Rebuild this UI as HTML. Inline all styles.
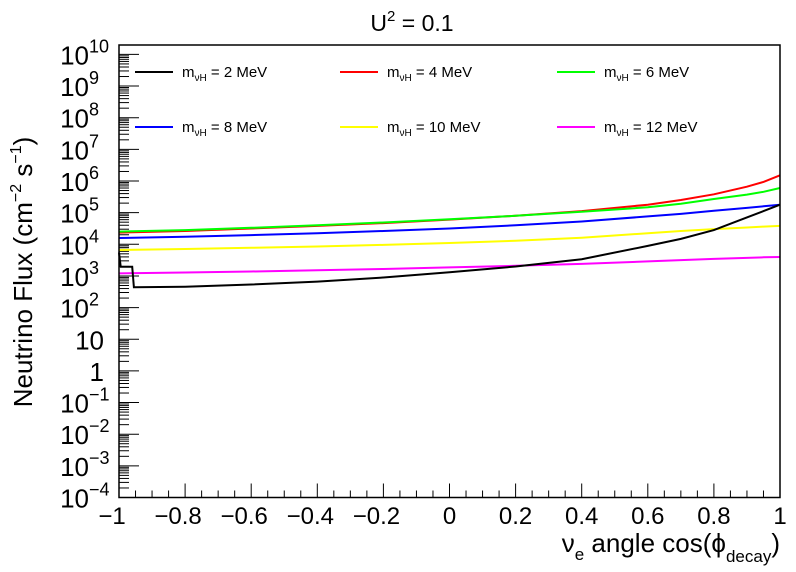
<!DOCTYPE html>
<html><head><meta charset="utf-8"><style>
html,body{margin:0;padding:0;background:#fff;}
svg{display:block;font-family:"Liberation Sans",sans-serif;}
</style></head><body>
<svg id="chart" width="796" height="572" viewBox="0 0 796 572" xmlns="http://www.w3.org/2000/svg">
<rect x="0" y="0" width="796" height="572" fill="#fff"/>
<text x="412" y="31" font-size="23" text-anchor="middle">U<tspan dy="-10" font-size="15">2</tspan><tspan dy="10"> = 0.1</tspan></text>
<text transform="translate(32,272) rotate(-90)" font-size="26" text-anchor="middle">Neutrino Flux (cm<tspan dy="-11" font-size="16">−2</tspan><tspan dy="11"> s</tspan><tspan dy="-11" font-size="16">−1</tspan><tspan dy="11">)</tspan></text>
<text x="780" y="552" font-size="26" text-anchor="end">ν<tspan dy="8" font-size="17">e</tspan><tspan dy="-8"> angle cos(ϕ</tspan><tspan dy="10" font-size="17">decay</tspan><tspan dy="-10">)</tspan></text>
<g id="ticks"></g>
<g id="series"></g>
<rect x="119" y="45" width="661" height="452.5" fill="none" stroke="#000" stroke-width="1.5"/>
<g id="legend"></g>
</svg>
<script>
const xGrid = [-1,-0.8,-0.6,-0.4,-0.2,0,0.2,0.4,0.6,0.7,0.8,0.9,0.95,1];
const red = [4.37,4.42,4.5,4.58,4.67,4.78,4.9,5.05,5.25,5.4,5.58,5.82,5.97,6.18];
const green = [4.40,4.45,4.52,4.6,4.69,4.79,4.9,5.03,5.17,5.28,5.43,5.57,5.66,5.78];
const blue = [4.2,4.24,4.29,4.35,4.42,4.5,4.6,4.72,4.88,4.96,5.06,5.15,5.2,5.25];
const yellow = [3.82,3.85,3.89,3.93,3.98,4.04,4.11,4.21,4.35,4.42,4.48,4.53,4.56,4.58];
const magenta = [3.08,3.11,3.14,3.18,3.22,3.27,3.32,3.38,3.46,3.5,3.54,3.57,3.59,3.6];
const blackX = [-1,-0.995,-0.96,-0.955,-0.8,-0.6,-0.4,-0.2,0,0.2,0.4,0.6,0.7,0.8,0.9,0.95,1];
const black = [3.74,3.29,3.29,2.64,2.66,2.73,2.82,2.95,3.12,3.3,3.53,3.95,4.17,4.45,4.85,5.05,5.25];
const xTickLabels = ["−1","−0.8","−0.6","−0.4","−0.2","0","0.2","0.4","0.6","0.8","1"];
const yDecades = [-4,-3,-2,-1,0,1,2,3,4,5,6,7,8,9,10];
const legendLabels = ["2","4","6","8","10","12"];

const NS="http://www.w3.org/2000/svg";
const X0=119,X1=780,YB=497.5,PD=31.65;
function sx(v){return X0+(v+1)/2*(X1-X0);}
function sy(l){return YB-(l+4)*PD;}
function mk(tag,attrs,parent){const e=document.createElementNS(NS,tag);for(const k in attrs)e.setAttribute(k,attrs[k]);parent.appendChild(e);return e;}
const ticks=document.getElementById('ticks');
for(let i=0;i<=40;i++){const v=-1+i*0.05;const maj=i%4===0;
 const t=mk('line',{x1:sx(v),x2:sx(v),y1:YB,y2:YB-(maj?14:7),stroke:'#000','stroke-width':1},ticks);
 
 }
xTickLabels.forEach((s,i)=>{const t=mk('text',{x:sx(-1+i*0.2)+(s.startsWith('−')?-7:0),y:524,'font-size':24,'text-anchor':'middle'},ticks);t.textContent=s;
 
 });
yDecades.forEach(d=>{const y=sy(d);
 const t=mk('line',{x1:X0,x2:X0+20,y1:y,y2:y,stroke:'#000','stroke-width':1},ticks);
 
 
 const lbl=mk('text',{x:104,y:y+10,'font-size':26,'text-anchor':'end'},ticks);
 
 
 if(d===0){lbl.textContent='1';}
 else if(d===1){lbl.textContent='10';}
 else{lbl.setAttribute('x',89);lbl.textContent='10';const sp=mk('tspan',{dy:-12,'font-size':18,'text-anchor':'start',x:89},lbl);sp.textContent=(d<0?'−':'')+Math.abs(d);}
 if(d<10){for(let k=2;k<=9;k++){const yy=sy(d+Math.log10(k));
  const m=mk('line',{x1:X0,x2:X0+10,y1:yy,y2:yy,stroke:'#000','stroke-width':1},ticks);
  
  }}
});
const ser=document.getElementById('series');
function drawLine(xs,ys,color,name){
 let pts=xs.map((x,i)=>sx(x).toFixed(1)+','+sy(ys[i]).toFixed(1)).join(' ');
 const p=mk('polyline',{points:pts,fill:'none',stroke:color,'stroke-width':2},ser);
 
 }
drawLine(xGrid,magenta,'#ff00ff','line-12mev');
drawLine(xGrid,yellow,'#ffff00','line-10mev');
drawLine(xGrid,blue,'#0000ff','line-8mev');
drawLine(xGrid,red,'#ff0000','line-4mev');
drawLine(xGrid,green,'#00ff00','line-6mev');
drawLine(blackX,black,'#000000','line-2mev');
const leg=document.getElementById('legend');
const colors=['#000','#ff0000','#00ff00','#0000ff','#ffff00','#ff00ff'];
const colX=[135,340,557],rowY=[72,127];
legendLabels.forEach((s,i)=>{const x=colX[i%3],y=rowY[Math.floor(i/3)];
 const g=mk('g',{},leg);
 
 
 mk('line',{x1:x,x2:x+38,y1:y,y2:y,stroke:colors[i],'stroke-width':2},g);
 const t=mk('text',{x:x+47,y:y+5,'font-size':15},g);
 t.textContent='m';
 const sub=mk('tspan',{dy:4,'font-size':10},t);sub.textContent='νH';
 const rest=mk('tspan',{dy:-4},t);rest.textContent=' = '+s+' MeV';
});
</script>
</body></html>
